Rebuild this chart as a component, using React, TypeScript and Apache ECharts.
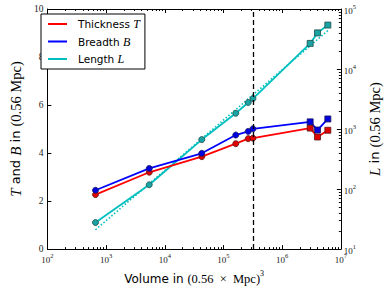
import React, { useEffect, useRef } from "react";
import * as echarts from "echarts";

// Volume in (0.56 x Mpc)^3
const volumes = [660, 5440, 42700, 162000, 264000, 318000, 3.0e6, 4.0e6, 6.0e6];
// Thickness T, Breadth B (left axis), Length L (right log axis)
const thickness = [2.27, 3.2, 3.85, 4.39, 4.6, 4.62, 5.04, 4.67, 4.95];
const breadth = [2.45, 3.36, 3.99, 4.75, 4.9, 5.01, 5.3, 4.96, 5.42];
const lengthL = [27.7, 118, 668, 1830, 2770, 3220, 26700, 40000, 54000];
// point style: circles for the first six, squares for the last three
const shapes = ["circle", "circle", "circle", "circle", "circle", "circle", "rect", "rect", "rect"];
// power-law fit for L (dotted), end points
const fitX = [660, 6.0e6];
const fitL = [21, 43600];
// vertical dashed marker
const dashedX = 316228;
// axis ranges / ticks
const xRange = [100, 1e7];
const leftRange = [0, 10];
const leftInterval = 2;
const rightRange = [10, 1e5];
const mantissas = [2, 3, 4, 5, 6, 7, 8, 9];
const xDecades = [1e2, 1e3, 1e4, 1e5, 1e6];
const yDecades = [1e1, 1e2, 1e3, 1e4];

const SERIF = "Liberation Serif";
const SANS = "DejaVu Sans";
const RED = "#ff0000";
const BLUE = "#0000ff";
const CYAN = "#00bfbf";

const pow10Label = (v: number) => {
  const e = Math.round(Math.log10(v));
  return `{b|10}{e|${e}}`;
};
const powRich = {
  b: { fontFamily: SERIF, fontSize: 9, color: "#222", lineHeight: 12, verticalAlign: "bottom" },
  e: { fontFamily: SERIF, fontSize: 6.5, color: "#222", lineHeight: 12, verticalAlign: "top" },
};
const yNameRich = {
  m: { fontFamily: SERIF, fontStyle: "italic", fontSize: 15, color: "#000" },
  s: { fontFamily: SANS, fontSize: 13, color: "#000" },
  r: { fontFamily: SERIF, fontSize: 14.5, color: "#000" },
};

export default function App() {
  const ref = useRef<HTMLDivElement>(null);
  useEffect(() => {
    if (!ref.current) return;
    const chart = echarts.init(ref.current, null, { renderer: "svg" });
    const xMinor: number[][] = [];
    xDecades.forEach((d) => mantissas.forEach((m) => xMinor.push([d * m, 1])));
    const yMinor: number[][] = [];
    yDecades.forEach((d) => mantissas.forEach((m) => yMinor.push([1000, d * m])));

    const mk = (ys: number[]) =>
      volumes.map((v, i) => ({
        value: [v, ys[i]],
        symbol: shapes[i],
        symbolSize: 6,
      }));

    const syms: Record<string, string> = { Thickness: "T", Breadth: "B", Length: "L" };

    chart.setOption({
      animation: false,
      grid: { left: 36, top: 9, width: 316, height: 244 },
      legend: {
        orient: "vertical",
        left: 41,
        top: 14,
        data: [
          { name: "Thickness", itemStyle: { color: RED, borderWidth: 0 } },
          { name: "Breadth", itemStyle: { color: BLUE, borderWidth: 0 } },
          { name: "Length", itemStyle: { color: CYAN, borderWidth: 0 } },
        ],
        icon: "rect",
        itemWidth: 19,
        itemHeight: 2,
        itemGap: 3.5,
        padding: [3, 5, 3, 7],
        borderColor: "#000",
        borderWidth: 1,
        borderRadius: 0,
        backgroundColor: "#fff",
        formatter: (n: string) => `{s|${n}} {i|${syms[n]}}`,
        textStyle: {
          fontFamily: SANS,
          fontSize: 10.5,
          color: "#000",
          lineHeight: 14,
          padding: [0, 0, 0, 6],
          rich: {
            s: { fontFamily: SANS, fontSize: 10.5, color: "#000", lineHeight: 14 },
            i: { fontFamily: SERIF, fontStyle: "italic", fontSize: 12, color: "#000", lineHeight: 14 },
          },
        },
      },
      xAxis: [
        {
          type: "log",
          logBase: 10,
          min: xRange[0],
          max: xRange[1],
          position: "bottom",
          axisLine: { lineStyle: { color: "#000", width: 1 } },
          axisTick: { inside: true, length: 4, lineStyle: { color: "#000" } },
          splitLine: { show: false },
          axisLabel: { formatter: pow10Label, rich: powRich, margin: 3 },
          name: "{s|Volume in }{m|(0.56  ×  Mpc)}{e|3}",
          nameLocation: "middle",
          nameGap: 12,
          nameTextStyle: {
            rich: {
              s: { fontFamily: SANS, fontSize: 12, color: "#000", lineHeight: 16, verticalAlign: "bottom" },
              m: { fontFamily: SERIF, fontSize: 12.5, color: "#000", lineHeight: 16, verticalAlign: "bottom" },
              e: { fontFamily: SERIF, fontSize: 8, color: "#000", lineHeight: 16, verticalAlign: "top" },
            },
          },
        },
        {
          type: "log",
          logBase: 10,
          min: xRange[0],
          max: xRange[1],
          position: "top",
          axisLine: { lineStyle: { color: "#000", width: 1 } },
          axisTick: { inside: true, length: 4, lineStyle: { color: "#000" } },
          axisLabel: { show: false },
          splitLine: { show: false },
        },
      ],
      yAxis: [
        {
          type: "value",
          min: leftRange[0],
          max: leftRange[1],
          interval: leftInterval,
          position: "left",
          axisLine: { show: true, lineStyle: { color: "#000", width: 1 } },
          axisTick: { show: true, inside: true, length: 4, lineStyle: { color: "#000" } },
          splitLine: { show: false },
          axisLabel: { fontFamily: SERIF, fontSize: 9.5, color: "#222", margin: 4 },
          name: "{m|T}{s| and }{m|B}{s| in }{r|(0.56 Mpc)}",
          nameLocation: "middle",
          nameRotate: 90,
          nameGap: 19,
          nameTextStyle: { rich: yNameRich },
        },
        {
          type: "log",
          logBase: 10,
          min: rightRange[0],
          max: rightRange[1],
          position: "right",
          axisLine: { show: true, lineStyle: { color: "#000", width: 1 } },
          axisTick: { show: true, inside: true, length: 4, lineStyle: { color: "#000" } },
          splitLine: { show: false },
          axisLabel: { formatter: pow10Label, rich: powRich, margin: 3 },
          name: "{m|L}{s| in }{r|(0.56 Mpc)}",
          nameLocation: "middle",
          nameRotate: 90,
          nameGap: 20,
          nameTextStyle: { rich: yNameRich },
        },
      ],
      series: [
        {
          name: "Length fit",
          type: "line",
          xAxisIndex: 0,
          yAxisIndex: 1,
          data: fitX.map((x, i) => [x, fitL[i]]),
          showSymbol: false,
          symbol: "none",
          lineStyle: { color: CYAN, width: 1.6, type: [1.5, 2] },
          silent: true,
          z: 2,
        },
        {
          name: "Length",
          type: "line",
          xAxisIndex: 0,
          yAxisIndex: 1,
          data: mk(lengthL),
          color: CYAN,
          lineStyle: { color: CYAN, width: 1.8 },
          itemStyle: { color: "#1aa3a3", borderColor: "#1e4a4a", borderWidth: 0.8 },
          z: 3,
        },
        {
          name: "Thickness",
          type: "line",
          xAxisIndex: 0,
          yAxisIndex: 0,
          data: mk(thickness),
          color: RED,
          lineStyle: { color: RED, width: 1.8 },
          itemStyle: { color: "#e00000", borderColor: "#5a1a1a", borderWidth: 0.8 },
          z: 3,
          markLine: {
            silent: true,
            symbol: ["none", "none"],
            label: { show: false },
            lineStyle: { color: "#000", width: 1.3, type: [5, 3] },
            data: [{ xAxis: dashedX }],
            z: 4,
          },
        },
        {
          name: "Breadth",
          type: "line",
          xAxisIndex: 0,
          yAxisIndex: 0,
          data: mk(breadth),
          color: BLUE,
          lineStyle: { color: BLUE, width: 1.8 },
          itemStyle: { color: "#0000e0", borderColor: "#1a1a5a", borderWidth: 0.8 },
          z: 3,
        },
        {
          name: "xMinor",
          type: "custom",
          xAxisIndex: 0,
          yAxisIndex: 0,
          silent: true,
          clip: false,
          data: xMinor,
          renderItem: (params: any, api: any) => {
            const p = api.coord([api.value(0), api.value(1)]);
            const cs = params.coordSys;
            const x = Math.round(p[0]) + 0.5;
            const b = cs.y + cs.height;
            return {
              type: "group",
              children: [
                { type: "line", shape: { x1: x, y1: b, x2: x, y2: b - 2 }, style: { stroke: "#000", lineWidth: 1 } },
                { type: "line", shape: { x1: x, y1: cs.y, x2: x, y2: cs.y + 2 }, style: { stroke: "#000", lineWidth: 1 } },
              ],
            };
          },
        },
        {
          name: "yMinor",
          type: "custom",
          xAxisIndex: 0,
          yAxisIndex: 1,
          silent: true,
          clip: false,
          data: yMinor,
          renderItem: (params: any, api: any) => {
            const p = api.coord([api.value(0), api.value(1)]);
            const cs = params.coordSys;
            const y = Math.round(p[1]) + 0.5;
            const r = cs.x + cs.width;
            return {
              type: "line",
              shape: { x1: r, y1: y, x2: r - 2, y2: y },
              style: { stroke: "#000", lineWidth: 1 },
            };
          },
        },
      ],
    });
    return () => chart.dispose();
  }, []);
  return (
    <div
      ref={ref}
      style={{ position: "fixed", left: 0, top: 0, width: 390, height: 290, background: "#fff" }}
    />
  );
}
